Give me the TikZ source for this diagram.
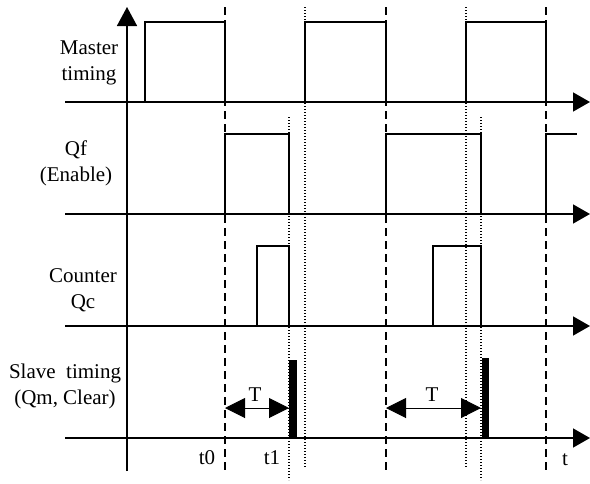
\documentclass[tikz,border=0pt]{standalone}
\usepackage{fontspec}
\setmainfont{Liberation Serif}
\usetikzlibrary{arrows.meta}
\begin{document}
\begin{tikzpicture}[x=1pt,y=-1pt,
  lbl/.style={inner sep=0pt,align=center,font=\fontsize{21}{26}\selectfont},
  axis/.style={line width=1.6pt,-{Triangle[length=17pt,width=19pt]}},
  sig/.style={line width=1.5pt},
  sigb/.style={line width=2.2pt},
  dashline/.style={line width=1.4pt,dash pattern=on 8pt off 5pt},
  dotline/.style={line width=1.2pt,dash pattern=on 1pt off 2pt},
  tarrow/.style={line width=1pt,{Triangle[length=20pt,width=20pt]}-{Triangle[length=20pt,width=20pt]}}]
\useasboundingbox (0,0) rectangle (590,483);
% guide lines
\foreach \x in {225,386,546} \draw[dashline] (\x,7) -- (\x,472);
\foreach \x in {305,466} \draw[dotline] (\x,7) -- (\x,468);
\foreach \x in {289,481} \draw[dotline] (\x,117) -- (\x,480);
% vertical axis
\draw[line width=1.6pt,-{Triangle[length=19pt,width=20pt]}] (127,471) -- (127,7);
% horizontal axes
\foreach \y in {102,214,326,438} \draw[axis] (65,\y) -- (590,\y);
% master timing
\draw[sig] (145,102) rectangle (225,22);
\draw[sig] (305,102) rectangle (386,22);
\draw[sig] (466,102) rectangle (546,22);
% Qf
\draw[sigb] (225,214) rectangle (289,134);
\draw[sig] (386,214) rectangle (481,134);
\draw[sig] (546,214) -- (546,134) -- (577,134);
% counter
\draw[line width=1.2pt] (257,326) rectangle (289,246);
\draw[sigb] (433,326) rectangle (481,246);
% slave bars
\fill (289,360) rectangle (297,439);
\fill (482,358) rectangle (489,439);
% T arrows
\coordinate (ta1) at (225,408); \coordinate (tb1) at (289,408);
\coordinate (ta2) at (386,408); \coordinate (tb2) at (481,408);
\draw[tarrow] (ta1) -- (tb1);
\draw[tarrow] (ta2) -- (tb2);
\node[lbl] (T1) at (255,395) {T};
\node[lbl] (T2) at (432,395) {T};
% labels
\node[lbl] (master) at (89,63) {Master\\timing};
\node[lbl] (qf) at (76,163) {Qf\\(Enable)};
\node[lbl] (counter) at (83,290) {Counter\\Qc};
\node[lbl] (slave) at (65,386) {Slave\ \ timing\\(Qm, Clear)};
\node[lbl] (t0) at (207,458) {t0};
\node[lbl] (t1) at (272,458) {t1};
\node[lbl] (t) at (565,460) {t};
\end{tikzpicture}
\end{document}
